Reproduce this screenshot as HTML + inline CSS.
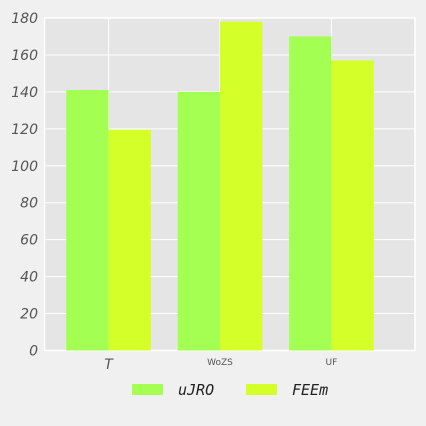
<!DOCTYPE html>
<html><head><meta charset="utf-8"><style>
body{margin:0;background:#f0f0f0;}
svg{display:block;}
</style></head><body>
<svg id="c" width="426" height="426" xmlns="http://www.w3.org/2000/svg"></svg>
<script>
const categories = ["T", "WoZS", "UF"];
const seriesNames = ["uJRO", "FEEm"];
const seriesA = [141, 140, 170];
const seriesB = [119.5, 178, 157];
const yTicks = [0, 20, 40, 60, 80, 100, 120, 140, 160, 180];

const NS = "http://www.w3.org/2000/svg";
const svg = document.getElementById("c");
const L = 44.5, R = 415, T = 18, B = 350.5;
const yMin = 0, yMax = 180, xMin = -0.575, xMax = 2.75;
const y = v => B - (v - yMin) / (yMax - yMin) * (B - T);
const x = i => L + (i - xMin) / (xMax - xMin) * (R - L);
const bw = 0.38 * (R - L) / (xMax - xMin);
const colors = ["#a3ff52", "#d5ff28"];
function el(tag, attrs, parent) {
  const e = document.createElementNS(NS, tag);
  for (const k in attrs) e.setAttribute(k, attrs[k]);
  (parent || svg).appendChild(e);
  return e;
}
const bg = el("rect", {x: L, y: T, width: R - L, height: B - T, fill: "#e5e5e5", stroke: "#fff", "stroke-width": 1.5});


yTicks.forEach(v => {
  const g = el("line", {x1: L, x2: R, y1: y(v), y2: y(v), stroke: "#fff", "stroke-width": 1});
  
  
  const t = el("text", {x: 38, y: y(v) + 5, "text-anchor": "end", "font-size": 14, "font-style": "italic", fill: "#555", "font-family": "DejaVu Sans, sans-serif"});
  t.textContent = v;
  
  
});
categories.forEach((c, i) => {
  const g = el("line", {x1: x(i), x2: x(i), y1: T, y2: B, stroke: "#fff", "stroke-width": 1});
  
  
});
[seriesA, seriesB].forEach((s, k) => {
  s.forEach((v, i) => {
    const bx = k === 0 ? x(i) - bw : x(i);
    const r = el("rect", {x: bx, y: y(v), width: bw, height: y(0) - y(v), fill: colors[k]});
    
    
  });
});
const xStyles = [{fs: 14, st: "italic"}, {fs: 9, st: "normal"}, {fs: 9, st: "normal"}];
categories.forEach((c, i) => {
  const s = xStyles[i];
  const t = el("text", {x: x(i), y: s.fs > 10 ? 369 : 365, "text-anchor": "middle", "font-size": s.fs, "font-style": s.st, fill: "#555", "font-family": "DejaVu Sans, sans-serif"});
  t.textContent = c;
  
  
});
const legX = [132, 246];
seriesNames.forEach((n, k) => {
  const r = el("rect", {x: legX[k], y: 384, width: 31, height: 11, fill: colors[k]});
  
  
  const t = el("text", {x: legX[k] + 46, y: 395, "font-size": 15, "font-style": "italic", fill: "#222", "font-family": "DejaVu Sans Mono, monospace"});
  t.textContent = n;
  
  
});
</script>
</body></html>
